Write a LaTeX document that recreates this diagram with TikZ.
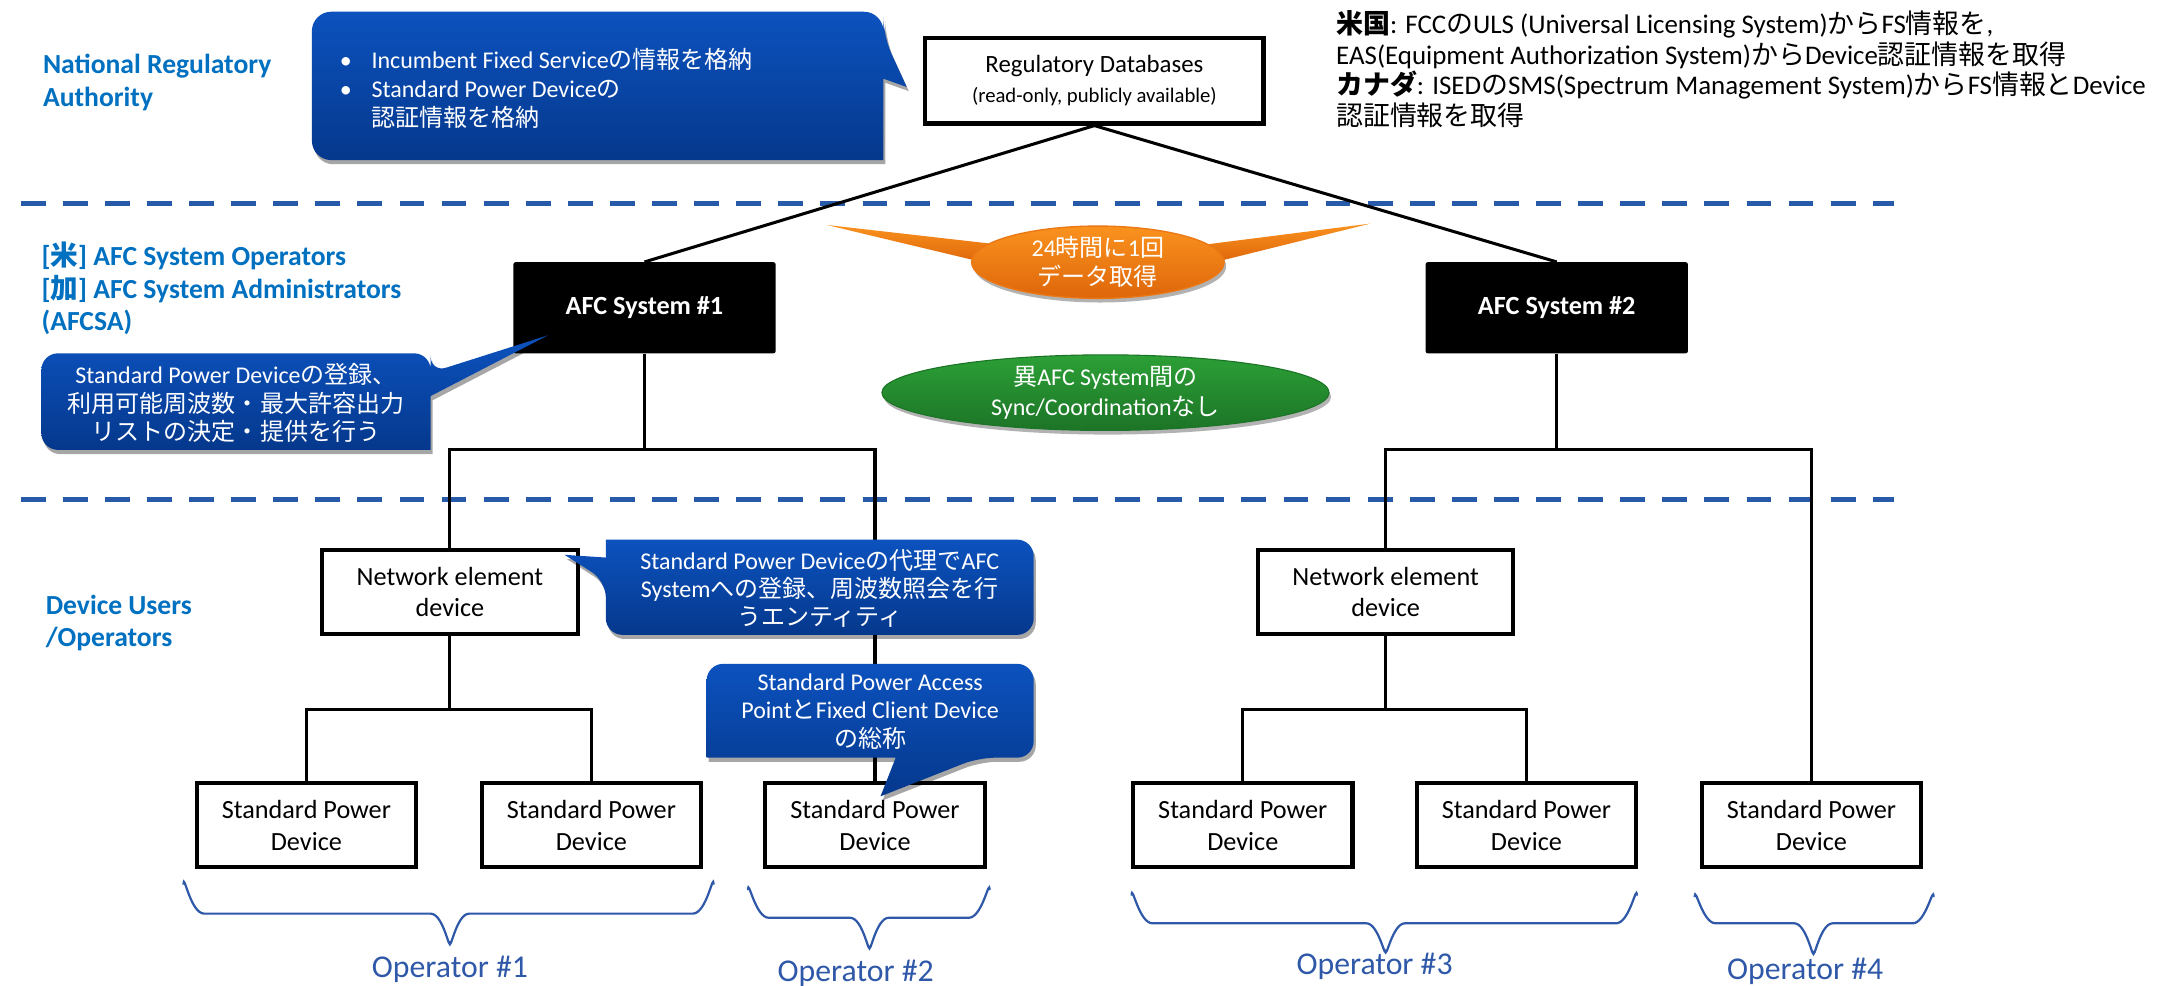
\documentclass[tikz,border=0pt]{standalone}
\usepackage{fontspec}
\setmainfont{Carlito}
\newfontfamily\jp{Noto Sans CJK JP}
\usetikzlibrary{shadows,shapes.geometric}
\newcommand\J[1]{{\jp #1}}
\definecolor{lblblue}{RGB}{0,112,192}
\definecolor{opblue}{RGB}{47,88,168}
\definecolor{dashblue}{RGB}{40,90,170}
\definecolor{calltop}{RGB}{12,82,190}
\definecolor{callbot}{RGB}{5,56,140}
\definecolor{orgtop}{RGB}{250,146,30}
\definecolor{orgbot}{RGB}{222,102,10}
\definecolor{orgedge}{RGB}{235,120,20}
\definecolor{grntop}{RGB}{44,160,54}
\definecolor{grnbot}{RGB}{28,116,38}
\begin{document}
\begin{tikzpicture}[x=1pt,y=-1pt,
 wbox/.style={draw=black,line width=3pt,fill=white,minimum width=159pt,minimum height=61pt,align=center,inner sep=0pt,font=\fontsize{19}{23}\selectfont},
 afcbox/.style={fill=black,rounded corners=1.5pt,minimum width=190pt,minimum height=66pt,inner sep=0pt,text=white,font=\bfseries\fontsize{19}{23}\selectfont},
 conn/.style={draw=black,line width=2.2pt},
 dashline/.style={draw=dashblue,line width=3.9pt,dash pattern=on 18pt off 12.5pt},
 callout/.style={top color=calltop,bottom color=callbot,drop shadow={shadow xshift=1.5pt,shadow yshift=-3pt,opacity=0.35,fill=black}},
 ctext/.style={text=white,align=center,inner sep=0pt,font=\fontsize{17.4}{20.5}\selectfont},
 lbl/.style={text=lblblue,font=\bfseries\fontsize{20}{24}\selectfont,align=left,anchor=west,inner sep=0pt},
 optext/.style={text=opblue,font=\fontsize{23}{27}\selectfont,inner sep=0pt},
 brace/.style={draw=opblue,line width=1.6pt},
]
\useasboundingbox (0,0) rectangle (1568,714);
\fill[white] (0,0) rectangle (1568,714);

% dashed separators
\coordinate (d1a) at (15,147.5);
\coordinate (d1b) at (1372,147.5);
\coordinate (d2a) at (15,362);
\coordinate (d2b) at (1372,362);
\draw[dashline] (d1a) -- (d1b);
\draw[dashline] (d2a) -- (d2b);

% left labels
\node[lbl] (lab1) at (31,59.5) {National Regulatory\\Authority};
\node[lbl,font=\bfseries\fontsize{20}{23.5}\selectfont] (lab2) at (30,209) {{[}\J{米}] AFC System Operators\\{[}\J{加}] AFC System Administrators\\(AFCSA)};
\node[lbl,font=\bfseries\fontsize{20}{23}\selectfont] (lab3) at (33,451.5) {Device Users\\/Operators};

% top-right note
\node[anchor=west,align=left,inner sep=0pt,font=\fontsize{19.5}{22.2}\selectfont] (note) at (968,50)
 {\textbf{\J{米国}}: FCC\J{の}ULS (Universal Licensing System)\J{から}FS\J{情報を},\\
  EAS(Equipment Authorization System)\J{から}Device\J{認証情報を取得}\\
  \textbf{\J{カナダ}}: ISED\J{の}SMS(Spectrum Management System)\J{から}FS\J{情報と}Device\\
  \J{認証情報を取得}};

% boxes
\node[wbox,minimum width=245pt,minimum height=62pt,font=\fontsize{18}{22}\selectfont] (reg) at (793,58.5)
 {Regulatory Databases\\{\fontsize{15}{18}\selectfont (read-only, publicly available)}};
\node[afcbox] (afc1) at (467,223) {AFC System \#1};
\node[afcbox] (afc2) at (1128,223) {AFC System \#2};
\node[wbox,minimum width=185pt] (ne1) at (326,429) {Network element\\device};
\node[wbox,minimum width=185pt] (ne2) at (1004,429) {Network element\\device};
\node[wbox] (spdA) at (222,598) {Standard Power\\Device};
\node[wbox] (spdB) at (428.5,598) {Standard Power\\Device};
\node[wbox] (spdC) at (634,598) {Standard Power\\Device};
\node[wbox] (spdD) at (900.5,598) {Standard Power\\Device};
\node[wbox] (spdE) at (1106,598) {Standard Power\\Device};
\node[wbox] (spdF) at (1312.5,598) {Standard Power\\Device};

% connectors
\coordinate (j1) at (467,326);
\coordinate (j2) at (1128,326);
\coordinate (j3) at (326,514);
\coordinate (j4) at (1004,514);
\draw[conn] (reg.south) -- (afc1.north);
\draw[conn] (reg.south) -- (afc2.north);
\draw[conn] (afc1.south) -- (j1);
\draw[conn] (afc2.south) -- (j2);
\draw[conn] (ne1.south) -- (j3);
\draw[conn] (ne2.south) -- (j4);
\draw[conn] (ne1.north) |- (j1) -| (spdC.north);
\draw[conn] (ne2.north) |- (j2) -| (spdF.north);
\draw[conn] (spdA.north) |- (j3) -| (spdB.north);
\draw[conn] (spdD.north) |- (j4) -| (spdE.north);

% callout 1
\path[callout] (433,8.5) [rounded corners=14pt] -- (640,8.5) -- (640,26) [sharp corners] -- (657,63) -- (640,57) -- (640,116) [rounded corners=14pt] -- (226,116) -- (226,8.5) -- cycle;
\node[anchor=west,align=left,inner sep=0pt,text=white,font=\fontsize{17.4}{21}\selectfont] (c1text) at (246,64)
 {\makebox[23pt][l]{•}Incumbent Fixed Service\J{の情報を格納}\\
  \makebox[23pt][l]{•}Standard Power Device\J{の}\\
  \hspace*{23pt}\J{認証情報を格納}};

% callout 2
\path[callout] (171,256) [rounded corners=12pt] -- (312,256) -- (312,270) [sharp corners] -- (397,243) -- (312,287) -- (312,326) [rounded corners=12pt] -- (30,326) -- (30,256) -- cycle;
\node[ctext] (c2text) at (171,292) {Standard Power Device\J{の登録、}\\\J{利用可能周波数・最大許容出力}\\\J{リストの決定・提供を行う}};

% callout 3
\path[callout] (594,391) [rounded corners=12pt] -- (749,391) -- (749,460) -- (439,460) -- (439,421) [sharp corners] -- (409,402) -- (439,404) -- (439,391) [rounded corners=12pt] -- cycle;
\node[ctext] (c3text) at (594,426.5) {Standard Power Device\J{の代理で}AFC\\System\J{への登録、周波数照会を行}\\\J{うエンティティ}};

% callout 4
\path[callout] (630,481) [rounded corners=12pt] -- (749,481) -- (749,549) -- (709,549) [sharp corners] -- (638,577) -- (649,549) -- (512,549) [rounded corners=12pt] -- (512,481) -- cycle;
\node[ctext] (c4text) at (630.5,515.5) {Standard Power Access\\Point\J{と}Fixed Client Device\\\J{の総称}};

% orange callout
\path[top color=orgtop,bottom color=orgbot] (722,177) -- (599,163) -- (712,190) -- cycle;
\path[top color=orgtop,bottom color=orgbot] (867,178) -- (993,162) -- (880,190) -- cycle;
\node[ellipse,minimum width=183pt,minimum height=52pt,inner sep=0pt,draw=orgedge,line width=1pt,top color=orgtop,bottom color=orgbot,drop shadow={shadow xshift=1.5pt,shadow yshift=-3pt,opacity=0.3,fill=black},text=white,align=center,font=\fontsize{17.4}{21}\selectfont] (orange) at (795.5,190) {24\J{時間に}1\J{回}\\\J{データ取得}};

% green ellipse
\node[ellipse,minimum width=324pt,minimum height=54pt,inner sep=0pt,draw=grnbot,line width=0.8pt,top color=grntop,bottom color=grnbot,drop shadow={shadow xshift=1.5pt,shadow yshift=-3pt,opacity=0.3,fill=black},text=white,align=center,font=\fontsize{17.4}{22}\selectfont] (green) at (801,284.5) {\J{異}AFC System\J{間の}\\Sync/Coordination\J{なし}};

% braces
\draw[brace] (133,641) to[out=90,in=180] (148,662) -- (312,662) to[out=0,in=-90] (326,682) to[out=-90,in=180] (340,662) -- (502,662) to[out=0,in=90] (517,641);
\draw[brace] (542,645) to[out=90,in=180] (557,665) -- (616,665) to[out=0,in=-90] (630,685) to[out=-90,in=180] (644,665) -- (702,665) to[out=0,in=90] (717,645);
\draw[brace] (820,649) to[out=90,in=180] (835,669) -- (990,669) to[out=0,in=-90] (1004,688) to[out=-90,in=180] (1018,669) -- (1171,669) to[out=0,in=90] (1186,649);
\draw[brace] (1228,650) to[out=90,in=180] (1243,669) -- (1300,669) to[out=0,in=-90] (1314,689) to[out=-90,in=180] (1328,669) -- (1386,669) to[out=0,in=90] (1401,650);

\node[optext] (op1) at (326,702) {Operator \#1};
\node[optext] (op2) at (620,705) {Operator \#2};
\node[optext] (op3) at (996,700) {Operator \#3};
\node[optext] (op4) at (1308,704) {Operator \#4};
\end{tikzpicture}
\end{document}
